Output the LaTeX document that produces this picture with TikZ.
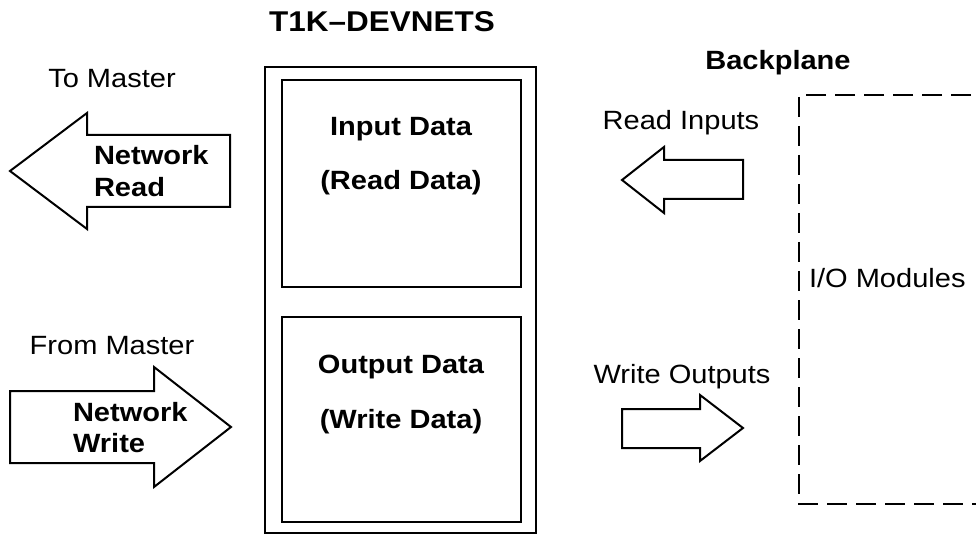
\documentclass[tikz,border=0pt]{standalone}
\usepackage{fontspec}
\setmainfont{Liberation Sans}[FakeStretch=1.1]
\usetikzlibrary{positioning}
\begin{document}
\begin{tikzpicture}[
			x=0.5pt, y=-0.5pt,
			line width=1pt,
			label/.style={font=\fontsize{13.2}{16}\selectfont, inner sep=0pt, anchor=base},
			boldlabel/.style={label, font=\fontsize{13.2}{16}\selectfont\bfseries},
			bigarrow/.style={draw, line join=miter, fill=white},
			backplane box/.style={draw, dash pattern=on 10pt off 4.5pt}
		]
		\useasboundingbox (0,0) rectangle (976,535);
		\clip (0,0) rectangle (976,535);

		\draw (265,67) rectangle (536,533);
		\draw (282,80) rectangle (521,287);
		\draw (282,317) rectangle (521,522);
		\draw[backplane box] (1000,95) -- (799,95) -- (799,504) -- (1000,504);

		\draw[bigarrow] (10,171) -- (87,113) -- (87,135) -- (230,135) -- (230,207)
			-- (87,207) -- (87,229) -- cycle;
		\draw[bigarrow] (10,391) -- (154,391) -- (154,367) -- (231,427) -- (154,487)
			-- (154,463) -- (10,463) -- cycle;
		\draw[bigarrow] (622,180) -- (664,147) -- (664,160) -- (743,160) -- (743,199)
			-- (664,199) -- (664,213) -- cycle;
		\draw[bigarrow] (622,409) -- (700,409) -- (700,395) -- (743,428) -- (700,461)
			-- (700,448) -- (622,448) -- cycle;

		\node[boldlabel, font=\fontsize{14.3}{17}\selectfont\bfseries] (title) at (382,32) {T1K–DEVNETS};
		\node[label] (tomaster) at (112,88) {To Master};
		\node[boldlabel, anchor=base west] (netread) at (93,165) {Network};
		\node[boldlabel, anchor=base west] (netreadb) at (93,197) {Read};
		\node[label] (frommaster) at (112,355) {From Master};
		\node[boldlabel, anchor=base west] (netwrite) at (72,422) {Network};
		\node[boldlabel, anchor=base west] (netwriteb) at (72,452) {Write};

		\node[boldlabel] (indata) at (401,136) {Input Data};
		\node[boldlabel] (readdata) at (401,190) {(Read Data)};
		\node[boldlabel] (outdata) at (401,373) {Output Data};
		\node[boldlabel] (writedata) at (401,428) {(Write Data)};

		\node[boldlabel] (backplane) at (778,70) {Backplane};
		\node[label] (readin) at (681,130) {Read Inputs};
		\node[label] (writeout) at (682,383) {Write Outputs};
		\node[label, anchor=base west] (iomod) at (808,287) {I/O Modules};
	\end{tikzpicture}
\end{document}
